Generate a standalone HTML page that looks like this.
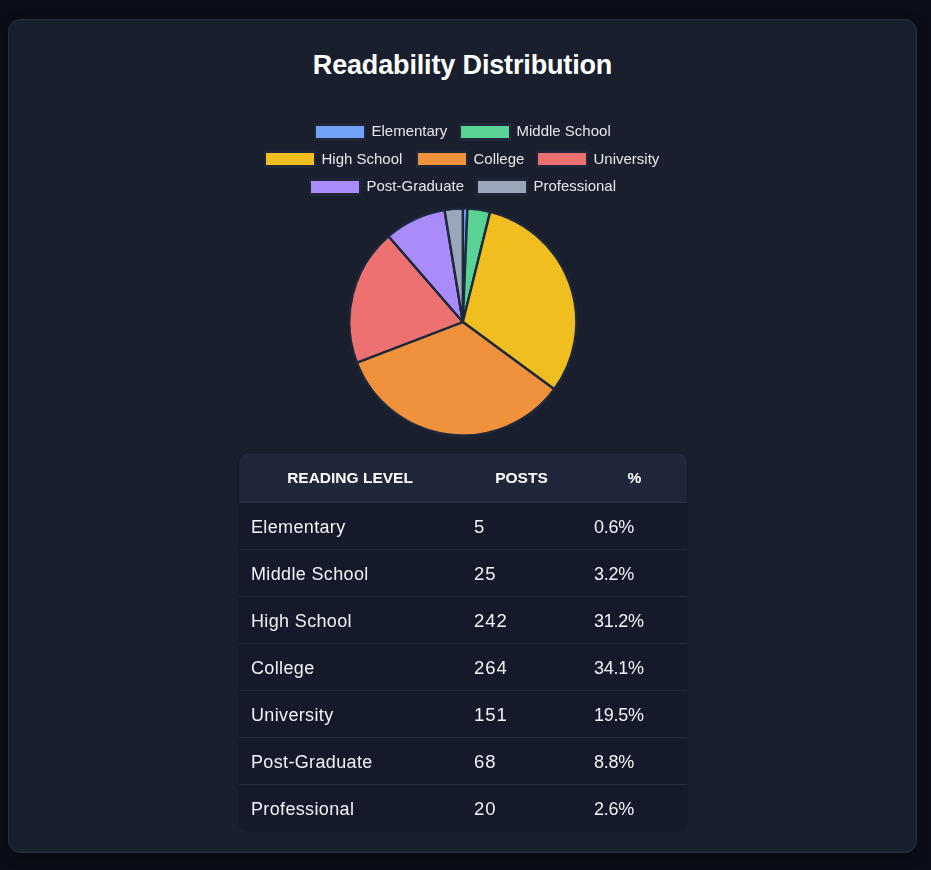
<!DOCTYPE html>
<html><head><meta charset="utf-8">
<style>
html,body{margin:0;padding:0;}
body{width:931px;height:870px;background:#0b0e18;font-family:"Liberation Sans",sans-serif;position:relative;overflow:hidden;}
.card{position:absolute;left:8px;top:19px;width:907px;height:832px;background:#1a1f2e;border:1px solid #2b3142;border-radius:12px;box-shadow:0 4px 12px rgba(0,0,0,0.35);}
.title{position:absolute;left:8px;top:48px;width:909px;text-align:center;color:#fff;font-weight:bold;font-size:27px;line-height:34px;letter-spacing:-0.15px;}
.lg{position:absolute;height:17px;will-change:transform;}
.lg .bx{position:absolute;left:0;top:0;width:48px;height:12px;border-style:solid;border-width:3px 2px;border-color:#1f2638;}
.lg .tx{position:absolute;left:57.5px;top:-1.4px;color:#e5e7eb;font-size:15px;line-height:19px;white-space:nowrap;}
svg.pie{position:absolute;left:0;top:0;}
.tbl{position:absolute;left:238px;top:452px;width:450px;height:380px;border-radius:10px;overflow:hidden;background:#141a2a;}
.th{position:absolute;left:1px;top:1px;width:448px;height:49px;background:#20273a;border-bottom:1px solid #2c3447;border-radius:9px 9px 0 0;}
.th span{position:absolute;top:0.4px;line-height:49px;color:#fff;font-weight:bold;font-size:15.5px;letter-spacing:0;text-align:center;}
.row{position:absolute;left:1px;width:448px;height:46px;border-bottom:1px solid #232a3a;}
.row span{position:absolute;top:1px;line-height:46px;color:#f1f3f6;font-size:18px;white-space:nowrap;}
</style></head><body>
<div class="card"></div>
<div class="title">Readability Distribution</div>

<div class="lg" style="left:313.5px;top:123px"><div class="bx" style="background:#72a1f8"></div><div class="tx" style="top:-2px">Elementary</div></div>
<div class="lg" style="left:459px;top:123px"><div class="bx" style="background:#58d295"></div><div class="tx" style="top:-2px">Middle School</div></div>
<div class="lg" style="left:264.4px;top:150px"><div class="bx" style="background:#f1be20"></div><div class="tx">High School</div></div>
<div class="lg" style="left:415.9px;top:150px"><div class="bx" style="background:#f0923b"></div><div class="tx">College</div></div>
<div class="lg" style="left:536.3px;top:150px"><div class="bx" style="background:#ed7171"></div><div class="tx">University</div></div>
<div class="lg" style="left:308.6px;top:178px"><div class="bx" style="background:#a98bf9"></div><div class="tx" style="top:-2px">Post-Graduate</div></div>
<div class="lg" style="left:476px;top:178px"><div class="bx" style="background:#9aa6b9"></div><div class="tx" style="top:-2px">Professional</div></div>

<svg class="pie" width="931" height="870" viewBox="0 0 931 870">
<g stroke="#1d283d" stroke-width="2.4" stroke-linejoin="bevel">
<path fill="#72a1f8" d="M462.85 322L462.85 208.50A113.5 113.5 0 0 1 467.45 208.59Z"/>
<path fill="#58d295" d="M462.85 322L467.45 208.59A113.5 113.5 0 0 1 490.18 211.84Z"/>
<path fill="#f1be20" d="M462.85 322L490.18 211.84A113.5 113.5 0 0 1 554.27 389.27Z"/>
<path fill="#f0923b" d="M462.85 322L554.27 389.27A113.5 113.5 0 0 1 356.90 362.71Z"/>
<path fill="#ed7171" d="M462.85 322L356.90 362.71A113.5 113.5 0 0 1 388.57 236.18Z"/>
<path fill="#a98bf9" d="M462.85 322L388.57 236.18A113.5 113.5 0 0 1 444.53 209.99Z"/>
<path fill="#9aa6b9" d="M462.85 322L444.53 209.99A113.5 113.5 0 0 1 462.85 208.50Z"/>
</g>
</svg>

<div class="tbl">
<div class="th"><span style="left:-1px;width:224px">READING LEVEL</span><span style="left:222.5px;width:120px">POSTS</span><span style="left:343.5px;width:104px">%</span></div>
<div class="row" style="top:51px"><span style="left:12px;letter-spacing:0.35px">Elementary</span><span style="left:235px;letter-spacing:0.9px;font-size:18.5px">5</span><span style="left:355px;letter-spacing:-0.25px">0.6%</span></div>
<div class="row" style="top:98px"><span style="left:12px;letter-spacing:0.35px">Middle School</span><span style="left:235px;letter-spacing:0.9px;font-size:18.5px">25</span><span style="left:355px;letter-spacing:-0.25px">3.2%</span></div>
<div class="row" style="top:145px"><span style="left:12px;letter-spacing:0.35px">High School</span><span style="left:235px;letter-spacing:0.9px;font-size:18.5px">242</span><span style="left:355px;letter-spacing:-0.25px">31.2%</span></div>
<div class="row" style="top:192px"><span style="left:12px;letter-spacing:0.35px">College</span><span style="left:235px;letter-spacing:0.9px;font-size:18.5px">264</span><span style="left:355px;letter-spacing:-0.25px">34.1%</span></div>
<div class="row" style="top:239px"><span style="left:12px;letter-spacing:0.35px">University</span><span style="left:235px;letter-spacing:0.9px;font-size:18.5px">151</span><span style="left:355px;letter-spacing:-0.25px">19.5%</span></div>
<div class="row" style="top:286px"><span style="left:12px;letter-spacing:0.35px">Post-Graduate</span><span style="left:235px;letter-spacing:0.9px;font-size:18.5px">68</span><span style="left:355px;letter-spacing:-0.25px">8.8%</span></div>
<div class="row" style="top:333px;border-bottom:none"><span style="left:12px;letter-spacing:0.35px">Professional</span><span style="left:235px;letter-spacing:0.9px;font-size:18.5px">20</span><span style="left:355px;letter-spacing:-0.25px">2.6%</span></div>
</div>
</body></html>
